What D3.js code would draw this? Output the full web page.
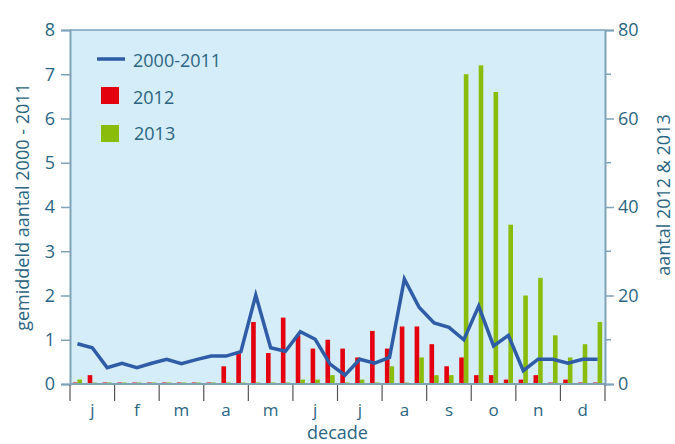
<!DOCTYPE html>
<html>
<head>
<meta charset="utf-8">
<script src="https://cdn.jsdelivr.net/npm/d3@7"></script>
<style>
  body { margin: 0; background: #fff; }
  text { font-family: "Open Sans", sans-serif; fill: #2b6582; }
</style>
</head>
<body>
<svg id="svg" width="675" height="444"></svg>
<script>
const months = ['j', 'f', 'm', 'a', 'm', 'j', 'j', 'a', 's', 'o', 'n', 'd']

// gemiddeld aantal per decade 2000-2011 (linkeras)
const avg2000_2011 = [0.91, 0.82, 0.37, 0.47, 0.37, 0.47, 0.56, 0.46, 0.55, 0.63, 0.63, 0.73,
  2.01, 0.82, 0.74, 1.18, 1.01, 0.45, 0.2, 0.56, 0.47, 0.6, 2.37, 1.73,
  1.38, 1.28, 1.0, 1.76, 0.86, 1.1, 0.3, 0.56, 0.56, 0.47, 0.56, 0.56]

// aantal per decade 2012 en 2013 (rechteras)
const count2012 = [0, 2, 0, 0, 0, 0, 0, 0, 0, 0, 4, 7,
  14, 7, 15, 11, 8, 10, 8, 6, 12, 8, 13, 13,
  9, 4, 6, 2, 2, 1, 1, 2, 0, 1, 0, 0]
const count2013 = [1, 0, 0, 0, 0, 0, 0, 0, 0, 0, 0, 0,
  0, 0, 0, 1, 1, 2, 0, 1, 0, 4, 0, 6,
  2, 2, 70, 72, 66, 36, 20, 24, 11, 6, 9, 14]

const leftTicks = d3.range(0, 9)
const rightTicks = [0, 20, 40, 60, 80]
const rightMinor = [10, 30, 50, 70]

const margin = { top: 30, right: 70, bottom: 60, left: 70 }
const width = 675 - margin.left - margin.right
const height = 444 - margin.top - margin.bottom

const svg = d3.select('#svg')
const g = svg.append('g').attr('transform', `translate(${margin.left},${margin.top})`)

const x = d3.scaleLinear().domain([0, 36]).range([0, width])
const yLeft = d3.scaleLinear().domain([0, 8]).range([height, 0])
const yRight = d3.scaleLinear().domain([0, 80]).range([height, 0])

const axisColor = '#7ea3b8'

// plot background
g.append('rect')
  .attr('width', width)
  .attr('height', height)
  .attr('fill', '#d5ecf9')

g.append('line')
  .attr('x1', 0).attr('x2', width)
  .attr('y1', 0).attr('y2', 0)
  .attr('stroke', axisColor).attr('stroke-width', 1.5)

// bars
const step = x(1) - x(0)
const bw = step * 0.31
const minH = 1.5

g.append('g').selectAll('rect')
  .data(count2012)
  .join('rect')
  .attr('x', (d, i) => x(i + 0.5) - bw)
  .attr('width', bw)
  .attr('y', d => Math.min(yRight(d), height - minH))
  .attr('height', d => Math.max(height - yRight(d), minH))
  .attr('fill', '#e3000f')

g.append('g').selectAll('rect')
  .data(count2013)
  .join('rect')
  .attr('x', (d, i) => x(i + 0.5))
  .attr('width', bw)
  .attr('y', d => Math.min(yRight(d), height - minH))
  .attr('height', d => Math.max(height - yRight(d), minH))
  .attr('fill', '#8abd0b')

// line
const line = d3.line()
  .x((d, i) => x(i + 0.5))
  .y(d => yLeft(d))

g.append('path')
  .datum(avg2000_2011)
  .attr('d', line)
  .attr('fill', 'none')
  .attr('stroke', '#2e5ca6')
  .attr('stroke-width', 3.5)
  .attr('stroke-linejoin', 'miter')

// left axis
const leftAxis = g.append('g')
  .call(d3.axisLeft(yLeft).tickValues(leftTicks).tickSize(9).tickPadding(6).tickFormat(d3.format('d')))
leftAxis.select('.domain').attr('stroke', axisColor).attr('stroke-width', 2)
leftAxis.selectAll('.tick line').attr('stroke', axisColor).attr('stroke-width', 1.5)
leftAxis.selectAll('.tick text').attr('font-size', 18).style('fill', '#2b6582')

// right axis
const rightAxis = g.append('g')
  .attr('transform', `translate(${width},0)`)
  .call(d3.axisRight(yRight).tickValues(rightTicks).tickSize(9).tickPadding(4))
rightAxis.select('.domain').attr('stroke', axisColor).attr('stroke-width', 2)
rightAxis.selectAll('.tick line').attr('stroke', axisColor).attr('stroke-width', 1.5)
rightAxis.selectAll('.tick text').attr('font-size', 18).style('fill', '#2b6582')

rightAxis.selectAll('.minor')
  .data(rightMinor)
  .join('line')
  .attr('x1', 0).attr('x2', 6)
  .attr('y1', d => yRight(d)).attr('y2', d => yRight(d))
  .attr('stroke', axisColor).attr('stroke-width', 1.5)

// bottom axis
const bottom = g.append('g').attr('transform', `translate(0,${height})`)
bottom.append('line')
  .attr('x1', 0).attr('x2', width)
  .attr('stroke', axisColor).attr('stroke-width', 2)
bottom.selectAll('.mtick')
  .data(d3.range(0, 37, 3))
  .join('line')
  .attr('x1', d => x(d)).attr('x2', d => x(d))
  .attr('y1', 1).attr('y2', 17)
  .attr('stroke', '#555').attr('stroke-width', 1.2)
bottom.selectAll('.mlabel')
  .data(months)
  .join('text')
  .attr('x', (d, i) => x(i * 3 + 1.5))
  .attr('y', 32)
  .attr('text-anchor', 'middle')
  .attr('font-size', 17)
  .text(d => d)

// axis titles
svg.append('text')
  .attr('x', margin.left + width / 2)
  .attr('y', 439)
  .attr('text-anchor', 'middle')
  .attr('font-size', 18)
  .text('decade')

svg.append('text')
  .attr('transform', `translate(29,${margin.top + 177}) rotate(-90)`)
  .attr('text-anchor', 'middle')
  .attr('font-size', 18)
  .text('gemiddeld aantal 2000 - 2011')

svg.append('text')
  .attr('transform', `translate(670,${margin.top + 165}) rotate(-90)`)
  .attr('text-anchor', 'middle')
  .attr('font-size', 18)
  .text('aantal 2012 & 2013')

// legend
const legend = svg.append('g')
legend.append('line')
  .attr('x1', 97).attr('x2', 125)
  .attr('y1', 59).attr('y2', 59)
  .attr('stroke', '#2e5ca6').attr('stroke-width', 3.5)
legend.append('text').attr('x', 133).attr('y', 67).attr('font-size', 18).text('2000-2011')
legend.append('rect').attr('x', 101).attr('y', 87).attr('width', 18).attr('height', 17).attr('fill', '#e3000f')
legend.append('text').attr('x', 133).attr('y', 104).attr('font-size', 18).text('2012')
legend.append('rect').attr('x', 101).attr('y', 125).attr('width', 18).attr('height', 17).attr('fill', '#8abd0b')
legend.append('text').attr('x', 134).attr('y', 140).attr('font-size', 18).text('2013')
</script>
</body>
</html>
